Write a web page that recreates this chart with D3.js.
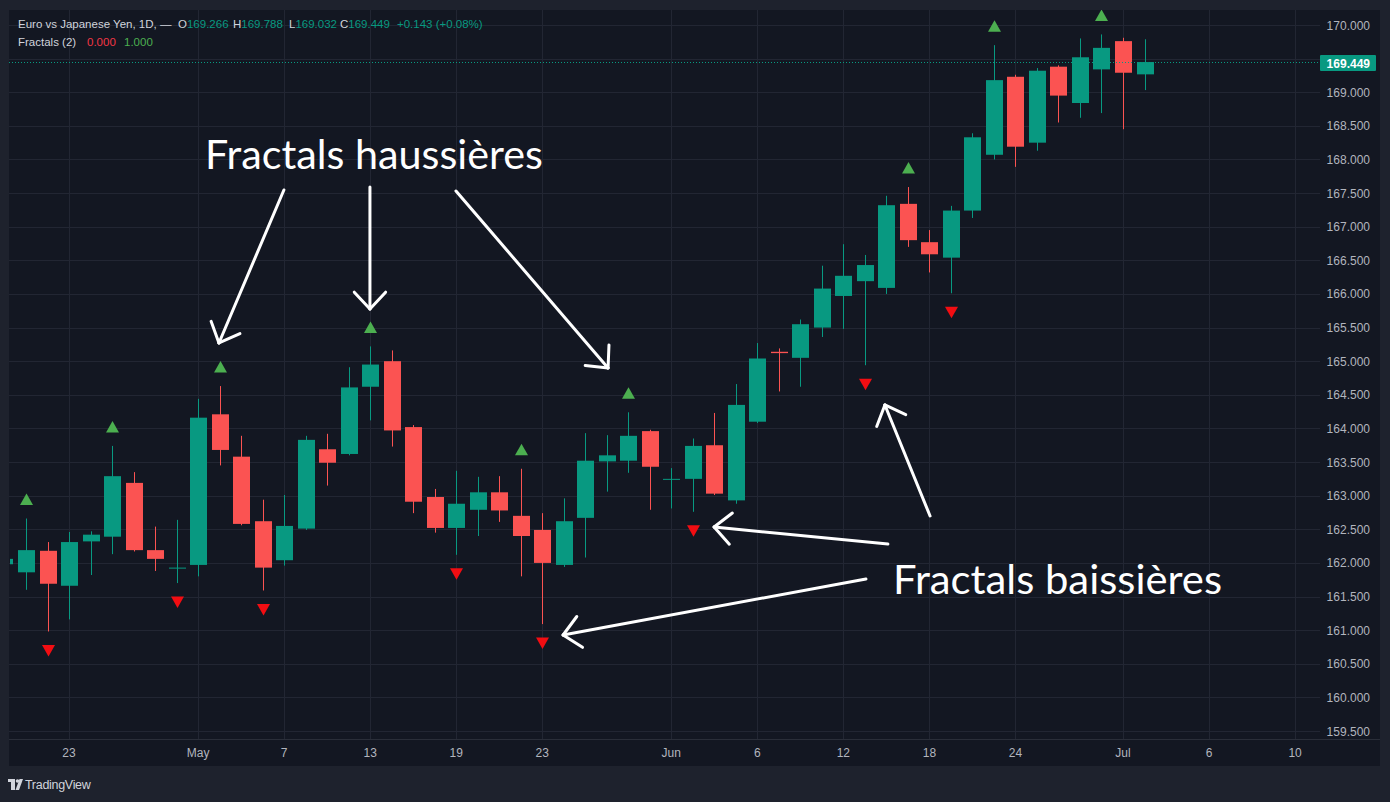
<!DOCTYPE html>
<html>
<head>
<meta charset="utf-8">
<script src="https://cdn.jsdelivr.net/npm/d3@7"></script>
<style>
body{margin:0;background:#1e222d;}
svg{display:block;font-family:"Liberation Sans",Arial,sans-serif;}
</style>
</head>
<body>
<svg width="1390" height="802"></svg>
<script>
// EUR/JPY daily bars, first bar = 18 Apr 2008 (only partly visible)
var opens  = [161.98,161.86,162.18,161.66,162.32,162.39,163.19,162.19,161.92,161.97,164.21,163.58,162.62,162.04,162.51,163.69,163.62,164.62,165.00,164.02,162.98,162.52,162.79,163.05,162.70,162.49,161.97,162.67,163.51,163.52,163.96,163.24,163.25,163.75,162.93,164.10,165.14,165.05,165.50,165.97,166.19,166.09,167.34,166.77,166.54,167.24,168.07,169.23,168.25,169.38,168.84,169.34,169.76,169.266];
var highs  = [162.12,162.66,162.31,162.46,162.47,163.74,163.35,162.54,162.64,164.44,164.63,163.89,162.94,163.01,163.89,163.92,164.91,165.22,165.16,164.05,163.10,163.37,163.28,163.29,163.40,162.74,162.96,163.93,163.90,164.24,163.98,163.41,163.85,164.23,164.66,165.27,165.19,165.62,166.42,166.74,166.58,167.46,167.59,166.95,167.31,168.39,169.70,169.26,169.36,169.40,169.80,169.86,169.81,169.788];
var lows   = [161.88,161.60,160.98,161.16,161.82,162.13,162.17,161.88,161.70,161.80,163.45,162.56,161.59,161.96,162.49,163.15,163.60,164.12,163.73,162.74,162.45,162.12,162.40,162.61,161.80,161.09,161.94,162.08,163.06,163.34,162.79,162.81,162.76,163.01,162.88,164.08,164.55,164.62,165.36,165.48,164.94,166.00,166.70,166.32,166.01,167.13,168.00,167.89,168.13,168.55,168.62,168.69,168.45,169.032];
var closes = [162.06,162.19,161.69,162.31,162.42,163.29,162.19,162.06,161.93,164.16,163.68,162.58,161.93,162.55,163.83,163.49,164.61,164.95,163.97,162.91,162.52,162.88,163.05,162.78,162.40,162.00,162.62,163.52,163.60,163.89,163.43,163.25,163.74,163.03,164.35,165.04,165.12,165.55,166.08,166.27,166.43,167.32,166.80,166.59,167.24,168.33,169.18,168.19,169.32,168.95,169.52,169.66,169.29,169.449];

// Williams fractals (2) - bar positions
var fractalUp   = [1, 5, 10, 17, 24, 29, 42, 46, 51];
var fractalDown = [2, 8, 12, 21, 25, 32, 40, 44];

// time axis labels
var tickBars   = [3, 9, 13, 17, 21, 25, 31, 35, 39, 43, 47, 52, 56, 60];
var tickLabels = ["23","May","7","13","19","23","Jun","6","12","18","24","Jul","6","10"];
var priceTicks = d3.range(159.5, 170.01, 0.5);

// annotation arrows [bar, price] -> [bar, price]
var arrowsUp   = [[[12.99,167.546],[9.97,165.271]], [[16.99,167.59],[16.99,165.776]], [[20.99,167.531],[28.06,164.899]]];
var arrowsDown = [[[41.07,162.281],[32.99,162.534]], [[43.03,162.698],[40.93,164.349]], [[40.05,161.761],[25.97,160.928]]];

var upCol = "#089981", downCol = "#fb5352";
var svg = d3.select("svg");

var xs = d3.scaleLinear().domain([0, 52]).range([4.49, 1123]);
var ys = d3.scaleLinear().domain([159.5, 170]).range([731, 25]);

var paneLeft = 9, paneTop = 10, plotRight = 1320, paneRight = 1380, axisTop = 739, paneBottom = 766;

//pane backgrounds
svg.append("rect").attr("x", paneLeft).attr("y", paneTop).attr("width", paneRight-paneLeft).attr("height", paneBottom-paneTop)
   .attr("fill", "#131722");

svg.append("defs").append("clipPath").attr("id", "plot")
   .append("rect").attr("x", paneLeft+1).attr("y", paneTop).attr("width", plotRight-paneLeft-1).attr("height", axisTop-paneTop);

//grid
var grid = svg.append("g");
grid.selectAll("line.h").data(priceTicks).enter().append("line")
    .attr("x1", paneLeft).attr("x2", plotRight)
    .attr("y1", d => Math.round(ys(d))+0.5).attr("y2", d => Math.round(ys(d))+0.5)
    .attr("stroke", "#222633").attr("stroke-width", 1);
grid.selectAll("line.v").data(tickBars).enter().append("line")
    .attr("y1", paneTop).attr("y2", axisTop)
    .attr("x1", d => Math.round(xs(d))+0.5).attr("x2", d => Math.round(xs(d))+0.5)
    .attr("stroke", "#222633").attr("stroke-width", 1);

//time axis border
svg.append("line").attr("x1", paneLeft).attr("x2", paneRight).attr("y1", axisTop+0.5).attr("y2", axisTop+0.5)
   .attr("stroke", "#2a2e39");

var last = closes[closes.length-1];

//price axis labels (the one under the last price label is hidden)
svg.append("g").selectAll("text").data(priceTicks.filter(d => Math.abs(ys(d) - ys(last)) > 14)).enter().append("text")
   .attr("x", 1370).attr("y", d => ys(d)+4.5)
   .attr("text-anchor", "end").attr("font-size", "12px").attr("fill", "#b2b5be")
   .text(d => d3.format(".3f")(d));

//time axis labels
svg.append("g").selectAll("text").data(tickBars).enter().append("text")
   .attr("x", d => xs(d)).attr("y", 757)
   .attr("text-anchor", "middle").attr("font-size", "12px").attr("fill", "#b2b5be")
   .text((d,i) => tickLabels[i]);

var bars = d3.range(opens.length);
var plot = svg.append("g").attr("clip-path", "url(#plot)");

//wicks
plot.selectAll("line.wick").data(bars).enter().append("line")
    .attr("x1", i => Math.round(xs(i))+0.5).attr("x2", i => Math.round(xs(i))+0.5)
    .attr("y1", i => ys(highs[i])).attr("y2", i => ys(lows[i]))
    .attr("stroke", i => closes[i] >= opens[i] ? upCol : downCol).attr("stroke-width", 1);

//bodies
plot.selectAll("rect.body").data(bars).enter().append("rect")
    .attr("x", i => Math.round(xs(i)) - 8).attr("width", 17)
    .attr("y", i => ys(Math.max(opens[i], closes[i])))
    .attr("height", i => Math.max(1, Math.abs(ys(opens[i]) - ys(closes[i]))))
    .attr("fill", i => closes[i] >= opens[i] ? upCol : downCol);

//fractal markers
plot.selectAll("path.up").data(fractalUp).enter().append("path")
    .attr("transform", i => "translate(" + (Math.round(xs(i))+0.5) + "," + (ys(highs[i]) - 19) + ")")
    .attr("d", "M0,-6L6.5,5.5L-6.5,5.5Z").attr("fill", "#4caf50");
plot.selectAll("path.down").data(fractalDown).enter().append("path")
    .attr("transform", i => "translate(" + (Math.round(xs(i))+0.5) + "," + (ys(lows[i]) + 19) + ")")
    .attr("d", "M0,6L6.5,-5.5L-6.5,-5.5Z").attr("fill", "#f20d12");

//last price line + label
svg.append("line").attr("x1", paneLeft).attr("x2", plotRight)
   .attr("y1", Math.round(ys(last))+0.5).attr("y2", Math.round(ys(last))+0.5)
   .attr("stroke", upCol).attr("stroke-dasharray", "1,2");
svg.append("rect").attr("x", plotRight).attr("y", ys(last)-7).attr("width", 56).attr("height", 16)
   .attr("rx", 1).attr("fill", upCol);
svg.append("text").attr("x", 1370).attr("y", ys(last)+5.5).attr("text-anchor", "end")
   .attr("font-size", "12px").attr("font-weight", "bold").attr("fill", "#ffffff").text(d3.format(".3f")(last));

//legend text
var hdr = svg.append("g").attr("font-size", "11.5px");
hdr.append("text").attr("x", 18).attr("y", 28).attr("fill", "#d1d4dc").text("Euro vs Japanese Yen, 1D, \u2014");
var ohlcX = [178, 233, 289, 340];
[["O", opens], ["H", highs], ["L", lows], ["C", closes]].forEach(function(d, i) {
    var t = hdr.append("text").attr("x", ohlcX[i]).attr("y", 28).attr("fill", "#d1d4dc").text(d[0]);
    t.append("tspan").attr("fill", upCol).text(d3.format(".3f")(d[1][d[1].length-1]));
});
hdr.append("text").attr("x", 397).attr("y", 28).attr("fill", upCol).text("+0.143 (+0.08%)");
hdr.append("text").attr("x", 18).attr("y", 46).attr("fill", "#d1d4dc").text("Fractals (2)");
hdr.append("text").attr("x", 87).attr("y", 46).attr("fill", "#f23645").text("0.000");
hdr.append("text").attr("x", 124).attr("y", 46).attr("fill", "#4caf50").text("1.000");

//annotations
var ann = svg.append("g").attr("stroke", "#ffffff").attr("stroke-width", 3).attr("stroke-linecap", "round").attr("fill", "none");
function arrow(a) {
    var x1 = xs(a[0][0]), y1 = ys(a[0][1]), x2 = xs(a[1][0]), y2 = ys(a[1][1]);
    ann.append("line").attr("x1", x1).attr("y1", y1).attr("x2", x2).attr("y2", y2);
    var ang = Math.atan2(y1 - y2, x1 - x2);
    [-0.75, 0.75].forEach(function(s) {
        ann.append("line").attr("x1", x2).attr("y1", y2)
           .attr("x2", x2 + 23*Math.cos(ang+s)).attr("y2", y2 + 23*Math.sin(ang+s));
    });
}
arrowsUp.forEach(arrow);
arrowsDown.forEach(arrow);

svg.append("text").attr("x", xs(9.32)).attr("y", ys(167.858))
   .attr("font-family", "Lato, 'Open Sans', sans-serif").attr("font-size", "40px").attr("fill", "#ffffff")
   .attr("textLength", 338).attr("lengthAdjust", "spacingAndGlyphs").text("Fractals haussières");
svg.append("text").attr("x", xs(41.31)).attr("y", ys(161.538))
   .attr("font-family", "Lato, 'Open Sans', sans-serif").attr("font-size", "40px").attr("fill", "#ffffff")
   .attr("textLength", 329).attr("lengthAdjust", "spacingAndGlyphs").text("Fractals baissières");

//TradingView logo
var logo = svg.append("g").attr("fill", "#d1d4dc");
logo.append("rect").attr("x", 8).attr("y", 779).attr("width", 7).attr("height", 3);
logo.append("rect").attr("x", 11).attr("y", 779).attr("width", 4).attr("height", 11);
logo.append("circle").attr("cx", 17.5).attr("cy", 781).attr("r", 1.8);
logo.append("path").attr("d", "M19.5,779L23,779L19,790L15.5,790Z");
logo.append("text").attr("x", 25).attr("y", 789).attr("font-size", "12.5px").attr("letter-spacing", "-0.3px").text("TradingView");
</script>
</body>
</html>
